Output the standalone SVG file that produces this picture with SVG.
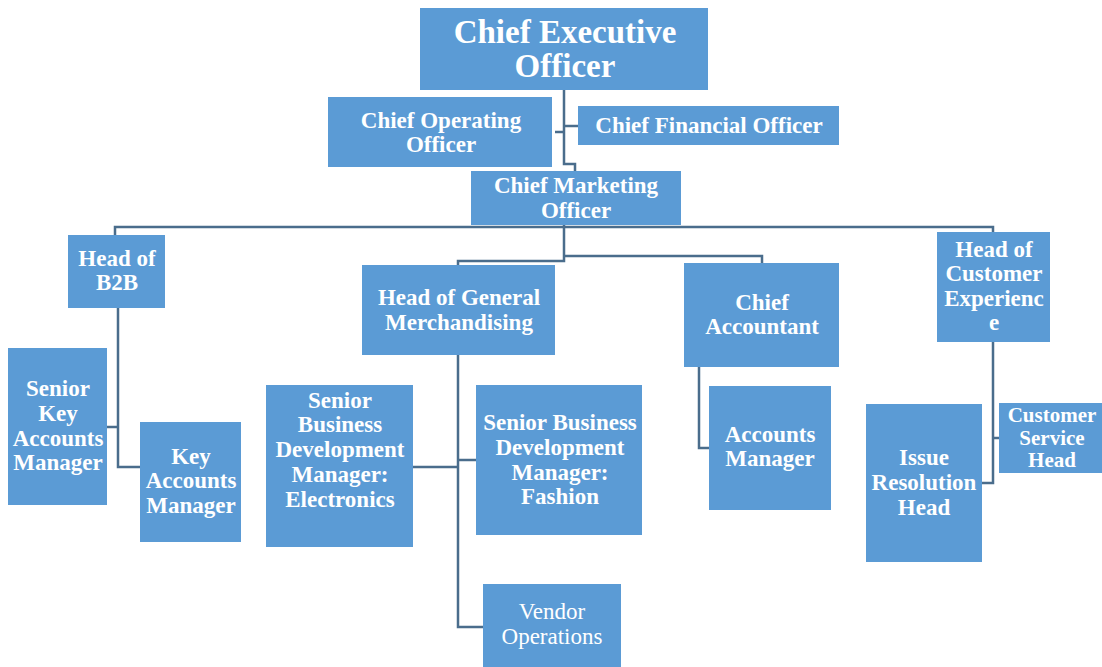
<svg xmlns="http://www.w3.org/2000/svg" width="1102" height="667" viewBox="0 0 1102 667">
<style>
.box{fill:#5b9bd5;}
.t{fill:#ffffff;font-family:"Liberation Serif","Times New Roman",serif;font-weight:bold;font-size:23px;text-anchor:middle;}
.r{font-weight:normal;}
.big{font-size:33px;}
.sm{font-size:21px;}
.c{fill:none;stroke:#4a6d8c;stroke-width:2.5;}
</style>
<rect width="1102" height="667" fill="#ffffff"/>
<g id="connectors">
<path class="c" d="M564 90 V164 H575 V171"/>
<path class="c" d="M555 132 H564"/>
<path class="c" d="M564 126 H578"/>
<path class="c" d="M115 235 V227 H993 V232"/>
<path class="c" d="M564 225 V261 H458 V265"/>
<path class="c" d="M564 256 H762 V263"/>
<path class="c" d="M118 308 V467 H140"/>
<path class="c" d="M107 427 H118"/>
<path class="c" d="M458 355 V627 H483"/>
<path class="c" d="M413 467 H458"/>
<path class="c" d="M458 460 H476"/>
<path class="c" d="M699 367 V448 H709"/>
<path class="c" d="M993 342 V483 H982"/>
<path class="c" d="M993 438 H999"/>
</g>
<g id="ceo"><rect class="box" x="420" y="8" width="288" height="82"/>
<text class="t big" x="565" y="43">Chief Executive</text><text class="t big" x="565" y="77">Officer</text></g>
<g id="coo"><rect class="box" x="328" y="97" width="224" height="70"/>
<text class="t" x="441" y="128">Chief Operating</text><text class="t" x="441" y="152">Officer</text></g>
<g id="cfo"><rect class="box" x="578" y="106" width="261" height="39"/>
<text class="t" x="709" y="133">Chief Financial Officer</text></g>
<g id="cmo"><rect class="box" x="471" y="171" width="210" height="54"/>
<text class="t" x="576" y="193">Chief Marketing</text><text class="t" x="576" y="218">Officer</text></g>
<g id="b2b"><rect class="box" x="68" y="235" width="97" height="73"/>
<text class="t" x="117" y="266">Head of</text><text class="t" x="117" y="290">B2B</text></g>
<g id="skam"><rect class="box" x="8" y="348" width="99" height="157"/>
<text class="t" x="58" y="396">Senior</text><text class="t" x="58" y="421">Key</text><text class="t" x="58" y="446">Accounts</text><text class="t" x="58" y="470">Manager</text></g>
<g id="kam"><rect class="box" x="140" y="422" width="101" height="120"/>
<text class="t" x="191" y="464">Key</text><text class="t" x="191" y="488">Accounts</text><text class="t" x="191" y="513">Manager</text></g>
<g id="hgm"><rect class="box" x="362" y="265" width="193" height="90"/>
<text class="t" x="459" y="305">Head of General</text><text class="t" x="459" y="330">Merchandising</text></g>
<g id="sbdm-e"><rect class="box" x="266" y="385" width="147" height="162"/>
<text class="t" x="340" y="408">Senior</text><text class="t" x="340" y="432">Business</text><text class="t" x="340" y="457">Development</text><text class="t" x="340" y="482">Manager:</text><text class="t" x="340" y="507">Electronics</text></g>
<g id="sbdm-f"><rect class="box" x="476" y="385" width="166" height="150"/>
<text class="t" x="560" y="430">Senior Business</text><text class="t" x="560" y="455">Development</text><text class="t" x="560" y="480">Manager:</text><text class="t" x="560" y="504">Fashion</text></g>
<g id="vendor"><rect class="box" x="483" y="584" width="138" height="83"/>
<text class="t r" x="552" y="619">Vendor</text><text class="t r" x="552" y="644">Operations</text></g>
<g id="ca"><rect class="box" x="684" y="263" width="155" height="104"/>
<text class="t" x="762" y="310">Chief</text><text class="t" x="762" y="334">Accountant</text></g>
<g id="am"><rect class="box" x="709" y="386" width="122" height="124"/>
<text class="t" x="770" y="442">Accounts</text><text class="t" x="770" y="466">Manager</text></g>
<g id="hce"><rect class="box" x="937" y="232" width="113" height="110"/>
<text class="t" x="994" y="257">Head of</text><text class="t" x="994" y="281">Customer</text><text class="t" x="994" y="306">Experienc</text><text class="t" x="994" y="330">e</text></g>
<g id="irh"><rect class="box" x="866" y="404" width="116" height="158"/>
<text class="t" x="924" y="465">Issue</text><text class="t" x="924" y="490">Resolution</text><text class="t" x="924" y="515">Head</text></g>
<g id="csh"><rect class="box" x="999" y="403" width="103" height="70"/>
<text class="t sm" x="1052" y="422">Customer</text><text class="t sm" x="1052" y="445">Service</text><text class="t sm" x="1052" y="467">Head</text></g>
</svg>
